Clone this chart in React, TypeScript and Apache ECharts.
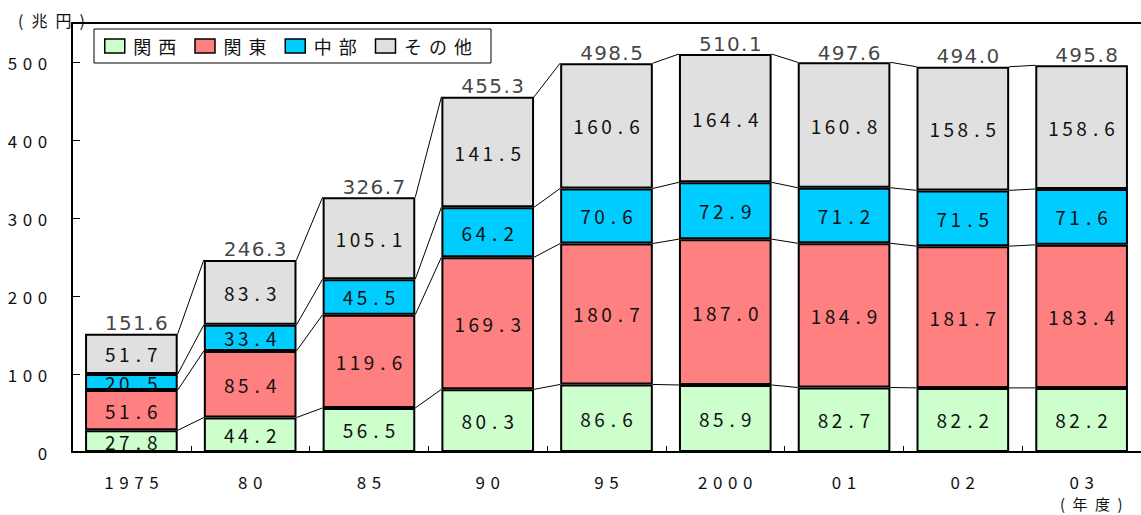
import React, { useEffect, useRef } from "react";
import * as echarts from "echarts";

const categories = ["1975", "80", "85", "90", "95", "2000", "01", "02", "03"];
const kansai = [27.8, 44.2, 56.5, 80.3, 86.6, 85.9, 82.7, 82.2, 82.2];
const kanto = [51.6, 85.4, 119.6, 169.3, 180.7, 187.0, 184.9, 181.7, 183.4];
const chubu = [20.5, 33.4, 45.5, 64.2, 70.6, 72.9, 71.2, 71.5, 71.6];
const other = [51.7, 83.3, 105.1, 141.5, 160.6, 164.4, 160.8, 158.5, 158.6];
const totals = [151.6, 246.3, 326.7, 455.3, 498.5, 510.1, 497.6, 494.0, 495.8];
const seriesNames = ["関西", "関東", "中部", "その他"];
const seriesColors = ["#CCFFCC", "#FF8080", "#00CCFF", "#E0E0E0"];
const seriesValues = [kansai, kanto, chubu, other];

const NARROW = "'Liberation Sans Narrow', 'Noto Sans CJK JP', sans-serif";
const CJK = "'Noto Sans CJK JP', sans-serif";
const WIDE = "'DejaVu Sans', sans-serif";

const cells = (s: string, key = "c") =>
  s
    .split("")
    .map((ch) => `{${key}|${ch}}`)
    .join("");

const BAR_RATIO = 0.78;

export default function App() {
  const ref = useRef<HTMLDivElement>(null);
  useEffect(() => {
    document.body.style.margin = "0";
    const chart = echarts.init(ref.current!, null, { renderer: "svg" });
    const barSeries = seriesNames.map((name, k) => ({
      name,
      type: "bar",
      stack: "total",
      barWidth: `${BAR_RATIO * 100}%`,
      data: seriesValues[k],
      z: 3,
      itemStyle: { color: seriesColors[k], borderColor: "#000", borderWidth: 2 },
      label: {
        show: true,
        position: "inside",
        fontSize: 19,
        fontFamily: NARROW,
        color: "#111",
        formatter: (p: any) => cells(Number(p.value).toFixed(1)),
        rich: {
          c: { width: 14, align: "center", fontSize: 19, fontFamily: NARROW, color: "#111" },
        },
      },
    }));

    const option: any = {
      animation: false,
      grid: { left: 72, right: -6, top: 23, bottom: 63 },
      legend: {
        left: 94,
        top: 29,
        orient: "horizontal",
        data: seriesNames,
        icon: "rect",
        itemWidth: 20,
        itemHeight: 14,
        itemGap: 18,
        padding: [8, 19, 8, 10],
        borderColor: "#000",
        borderWidth: 1,
        backgroundColor: "#fff",
        itemStyle: { borderColor: "#000", borderWidth: 1.5 },
        formatter: (name: string) => cells(name, "l"),
        textStyle: {
          fontSize: 18,
          fontFamily: CJK,
          color: "#111",
          rich: { l: { width: 25, align: "center", fontSize: 18, fontFamily: CJK, color: "#111" } },
        },
      },
      xAxis: [
        {
          type: "category",
          data: categories,
          axisLine: { show: true, lineStyle: { color: "#000", width: 2 } },
          axisTick: { show: true, inside: true, length: 6, lineStyle: { color: "#000", width: 1 } },
          axisLabel: {
            interval: 0,
            margin: 21,
            fontSize: 17,
            lineHeight: 17,
            fontFamily: NARROW,
            color: "#111",
            formatter: (v: string) => cells(v),
            rich: {
              c: { width: 15, align: "center", fontSize: 17, lineHeight: 17, fontFamily: NARROW, color: "#111" },
            },
          },
        },
        {
          type: "category",
          position: "top",
          data: categories,
          axisLine: { show: true, lineStyle: { color: "#000", width: 2 } },
          axisTick: { show: false },
          axisLabel: { show: false },
        },
      ],
      yAxis: {
        type: "value",
        min: 0,
        max: 550,
        interval: 100,
        splitLine: { show: false },
        axisLine: { show: true, lineStyle: { color: "#000", width: 2 } },
        axisTick: { show: true, inside: true, length: 8, lineStyle: { color: "#000", width: 1 } },
        axisLabel: {
          margin: 22,
          fontSize: 17,
          fontFamily: NARROW,
          color: "#111",
          showMaxLabel: false,
          formatter: (v: number) => (v > 500 ? "" : cells(String(v))),
          rich: { c: { width: 15, align: "center", fontSize: 17, fontFamily: NARROW, color: "#111" } },
        },
      },
      series: [
        {
          type: "custom",
          silent: true,
          z: 1,
          data: categories.slice(0, -1).map((_, i) => [i, totals[i]]),
          renderItem: (params: any, api: any) => {
            const i = params.dataIndex;
            const bw = api.size([1, 0])[0] * BAR_RATIO;
            const children: any[] = [];
            let a = 0;
            let b = 0;
            for (const s of seriesValues) {
              a += s[i];
              b += s[i + 1];
              const p1 = api.coord([i, a]);
              const p2 = api.coord([i + 1, b]);
              children.push({
                type: "line",
                shape: { x1: p1[0] + bw / 2, y1: p1[1], x2: p2[0] - bw / 2, y2: p2[1] },
                style: { stroke: "#000", lineWidth: 1 },
              });
            }
            return { type: "group", children };
          },
        },
        ...barSeries,
        {
          type: "scatter",
          silent: true,
          data: totals,
          symbolSize: 1,
          itemStyle: { color: "transparent" },
          z: 5,
          label: {
            show: true,
            position: "top",
            distance: 0,
            offset: [5, 0],
            fontSize: 20,
            fontFamily: WIDE,
            color: "#111",
            formatter: (p: any) =>
              Number(p.value)
                .toFixed(1)
                .split("")
                .map((ch) => (ch === "." ? `{d|.}` : `{n|${ch}}`))
                .join(""),
            rich: {
              n: { width: 14, align: "center", fontSize: 20, fontFamily: WIDE, color: "#111" },
              d: { width: 8, align: "center", fontSize: 20, fontFamily: WIDE, color: "#111" },
            },
          },
        },
      ],
      graphic: [
        {
          type: "text",
          left: 18,
          top: 12,
          style: { text: "(\u2002兆\u2002円\u2002)", font: `16px ${CJK}`, fill: "#111" },
        },
        {
          type: "text",
          left: 1060,
          top: 496,
          style: { text: "(\u2002年\u2002度\u2002)", font: `15px ${CJK}`, fill: "#111" },
        },
      ],
    };
    chart.setOption(option);
    return () => chart.dispose();
  }, []);
  return <div ref={ref} style={{ width: 1141, height: 515 }} />;
}
